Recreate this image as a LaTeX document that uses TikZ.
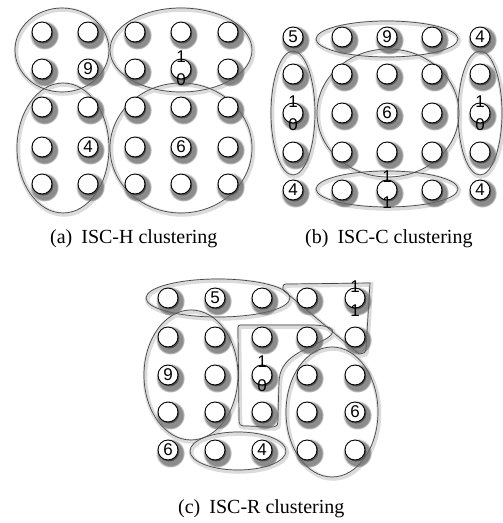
\documentclass[tikz,border=0pt]{standalone}
\usepackage{fontspec}
\setmainfont{Liberation Serif}
\newfontfamily\numfont{Liberation Sans}
\usetikzlibrary{shadows}
\begin{document}
\begin{tikzpicture}[x=1pt,y=-1pt,
  dot/.style={circle, draw=black, line width=0.9pt, fill=white, minimum size=20pt, inner sep=0pt,
    circular drop shadow={shadow xshift=1.6pt, shadow yshift=-2.2pt, shadow scale=1.45, opacity=0.75, fill=black!60},
    drop shadow={shadow xshift=1.3pt, shadow yshift=-1.5pt, fill=black!70, opacity=0.9}},
  num/.style={inner sep=0pt, font=\numfont\fontsize{17}{17}\selectfont},
  clus/.style={draw=black!72, line width=0.7pt},
  clsh/.style={draw=black!14, line width=4.5pt},
  captext/.style={inner sep=0pt, anchor=base west, font=\fontsize{20}{24}\selectfont}]
\useasboundingbox (0,0) rectangle (503,523);
\fill[white] (0,0) rectangle (503,523);

% ---------- cluster shadows ----------
\foreach \cx/\cy/\rx/\ry in {62/50/47/42, 181/50/71/42, 63/148/46/65, 181/148/71/65,
  387/39/71/18, 293/113/22/62, 388/113/71/64, 480/113/22/62, 387/189/71/18,
  218/298/72/19, 191/375/47/65, 238/451/48/19, 332/412/46/65}
  \draw[clsh] (\cx+1,\cy+1.5) ellipse [x radius=\rx, y radius=\ry];
\draw[clsh, shift={(1,1.5)}] (283,290) .. controls (283,284) .. (289,284) -- (370,283) -- (366,349) .. controls (365,353) .. (359,354) -- cycle;
\draw[clsh, shift={(1,1.5)}] (238,330) .. controls (238,325) .. (243,325) -- (310,325) .. controls (335,325) and (340,332) .. (322,341) .. controls (300,352) and (280,358) .. (279,382) -- (278,415) .. controls (278,427) .. (268,427) -- (248,426) .. controls (239,426) .. (239,416) -- cycle;

% ---------- cluster outlines ----------
\foreach \cx/\cy/\rx/\ry in {62/50/47/42, 181/50/71/42, 63/148/46/65, 181/148/71/65,
  387/39/71/18, 293/113/22/62, 388/113/71/64, 480/113/22/62, 387/189/71/18,
  218/298/72/19, 191/375/47/65, 238/451/48/19, 332/412/46/65}
  \draw[clus] (\cx,\cy) ellipse [x radius=\rx, y radius=\ry];
\draw[clus] (283,290) .. controls (283,284) .. (289,284) -- (370,283) -- (366,349) .. controls (365,353) .. (359,354) -- cycle;
\draw[clus] (238,330) .. controls (238,325) .. (243,325) -- (310,325) .. controls (335,325) and (340,332) .. (322,341) .. controls (300,352) and (280,358) .. (279,382) -- (278,415) .. controls (278,427) .. (268,427) -- (248,426) .. controls (239,426) .. (239,416) -- cycle;

% ---------- sensor grids ----------
\foreach \c/\x in {0/42,1/88,2/135,3/181,4/228}
  \foreach \r/\y in {0/32,1/69,2/107,3/147,4/184}
    \node[dot] (a\r\c) at (\x,\y) {};
\foreach \c/\x in {0/293,1/342,2/387,3/432,4/480}
  \foreach \r/\y in {0/37,1/74,2/113,3/152,4/190}
    \node[dot] (b\r\c) at (\x,\y) {};
\foreach \c/\x in {0/168,1/215,2/262,3/307,4/355}
  \foreach \r/\y in {0/298,1/337,2/375,3/412,4/450}
    \node[dot] (c\r\c) at (\x,\y) {};

% ---------- labels (a) ----------
\node[num] (a11t) at (a11) {9};
\node[num] (a31t) at (a31) {4};
\node[num] (a33t) at (a33) {6};
\node[num] (a13u) at ([yshift=12pt]a13.center) {1};
\node[num] (a13d) at ([yshift=-11pt]a13.center) {0};

% ---------- labels (b) ----------
\node[num] (b00t) at (b00) {5};
\node[num] (b02t) at (b02) {9};
\node[num] (b04t) at (b04) {4};
\node[num] (b22t) at (b22) {6};
\node[num] (b40t) at (b40) {4};
\node[num] (b44t) at (b44) {4};
\node[num] (b20u) at ([yshift=11pt]b20.center) {1};
\node[num] (b20d) at ([yshift=-12pt]b20.center) {0};
\node[num] (b24u) at ([yshift=11pt]b24.center) {1};
\node[num] (b24d) at ([yshift=-12pt]b24.center) {0};
\node[num] (b42u) at ([yshift=13pt]b42.center) {1};
\node[num] (b42d) at ([yshift=-13pt]b42.center) {1};

% ---------- labels (c) ----------
\node[num] (c01t) at (c01) {5};
\node[num] (c20t) at (c20) {9};
\node[num] (c34t) at (c34) {6};
\node[num] (c40t) at (c40) {6};
\node[num] (c42t) at (c42) {4};
\node[num] (c04u) at ([yshift=11pt]c04.center) {1};
\node[num] (c04d) at ([yshift=-13pt]c04.center) {1};
\node[num] (c22u) at ([yshift=13pt]c22.center) {1};
\node[num] (c22d) at ([yshift=-11pt]c22.center) {0};

% ---------- captions ----------
\node[captext] (capa) at (50,243) {(a)\hspace{0.45em}ISC-H clustering};
\node[captext] (capb) at (305,243) {(b)\hspace{0.45em}ISC-C clustering};
\node[captext] (capc) at (178,513) {(c)\hspace{0.45em}ISC-R clustering};
\end{tikzpicture}
\end{document}
